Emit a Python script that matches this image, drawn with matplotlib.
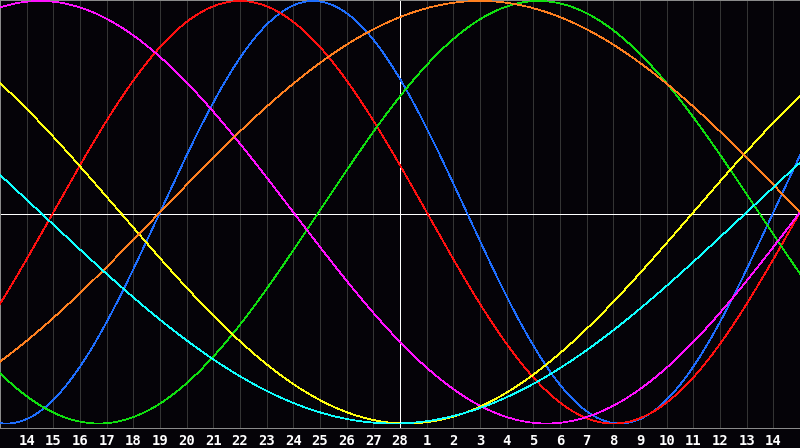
import numpy as np
import matplotlib
matplotlib.use("Agg")
import matplotlib.pyplot as plt

# Biorhythm cycles: period (days) and the day (relative to the centre day)
# on which each curve crosses the midline going upwards.
cycle_names = ["physical", "emotional", "intellectual", "intuitive",
               "aesthetic", "awareness", "spiritual"]
periods = [23, 28, 33, 38, 43, 48, 53]
upcross_day = [-9.0, -13.0, -3.05, -23.0, 11.0, -9.0, 13.0]
colors = ["#1e6eff", "#ff1010", "#10e010", "#ff10ff", "#ffff10", "#ff8020", "#10ffff"]

# Day offsets shown on the axis and their date labels
tick_days = list(range(-14, 15))
tick_labels = [str(d) for d in range(14, 29)] + [str(d) for d in range(1, 15)]

W, H, DPI = 800, 448, 100
fig = plt.figure(figsize=(W / DPI, H / DPI), dpi=DPI, facecolor="#050308")
ax = fig.add_axes([0, (H - 428) / H, 1, 428 / H])
ax.set_facecolor("#050308")

ax.set_xlim(-15, 15)
ax.set_ylim(-1.0213, 1.0047)

px = 72 / DPI  # one pixel in points

for d in tick_days:
    if d == 0:
        continue
    ax.axvline(d, color="#343434", lw=px, antialiased=False, zorder=1)
ax.axvline(0, color="white", lw=px, antialiased=False, zorder=2)
ax.axhline(-0.006, color="white", lw=px, antialiased=False, zorder=2)

t = np.linspace(-15, 15, 1601)
for P, t0, c in zip(periods, upcross_day, colors):
    ax.plot(t, np.sin(2 * np.pi * (t - t0) / P), color=c, lw=0.5,
            antialiased=False, zorder=3)

for s in ax.spines.values():
    s.set_color("#8a8a8a")
    s.set_linewidth(px)

ax.set_yticks([])
ax.set_xticks(tick_days)
ax.set_xticklabels(tick_labels, family="DejaVu Sans Mono", fontweight="bold",
                   fontsize=10, color="white")
ax.tick_params(axis="x", length=0, pad=4)

fig.savefig("out.png", dpi=DPI, facecolor=fig.get_facecolor())
